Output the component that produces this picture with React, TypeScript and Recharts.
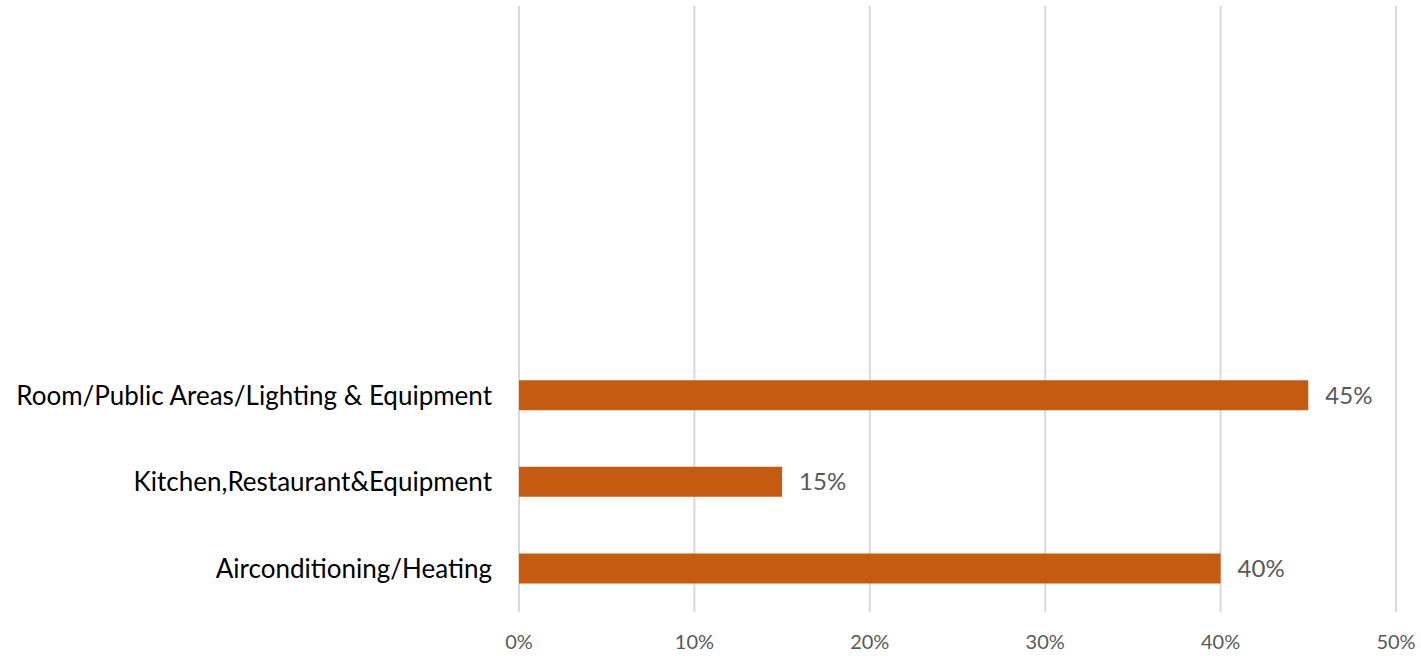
import React from 'react';
import { BarChart, Bar, XAxis, YAxis, CartesianGrid, LabelList } from 'recharts';

// categories top to bottom (the top four slots are empty in the source chart)
const categories = ['', '', '', '', 'Room/Public Areas/Lighting & Equipment', 'Kitchen,Restaurant&Equipment', 'Airconditioning/Heating'];
const shares = [null, null, null, null, 45, 15, 40];
const xTicks = [0, 10, 20, 30, 40, 50];

const data = categories.map((name, i) => ({ id: i, name, share: shares[i] }));

const font = 'Lato, "Open Sans", sans-serif';

const App: React.FC = () => {
  return (
    <div style={{ position: 'absolute', left: 0, top: 0, width: 1421, height: 656, background: '#fff' }}>
      <BarChart
        width={1421}
        height={656}
        data={data}
        layout="vertical"
        margin={{ top: 6, right: 25, bottom: 0, left: 0 }}
        barSize={30}
      >
        <CartesianGrid horizontal={false} stroke="#d9d9d9" strokeWidth={2} />
        <XAxis
          type="number"
          domain={[0, 50]}
          ticks={xTicks}
          tickFormatter={(v: number) => `${v}%`}
          axisLine={false}
          tickLine={false}
          height={44}
          tickMargin={17}
          tick={{ fill: '#595959', fontSize: 20, fontFamily: font }}
        />
        <YAxis
          type="category"
          dataKey="id"
          width={519}
          tickFormatter={(i: number) => categories[i]}
          axisLine={false}
          tickLine={false}
          tickMargin={21}
          interval={0}
          tick={{ fill: '#000', fontSize: 26, fontFamily: font }}
        />
        <Bar dataKey="share" fill="#c55a11" isAnimationActive={false}>
          <LabelList
            dataKey="share"
            position="right"
            offset={17}
            formatter={(v: any) => (v == null ? '' : `${v}%`)}
            style={{ fill: '#595959', fontSize: 24, fontFamily: font }}
          />
        </Bar>
      </BarChart>
    </div>
  );
};

export default App;
